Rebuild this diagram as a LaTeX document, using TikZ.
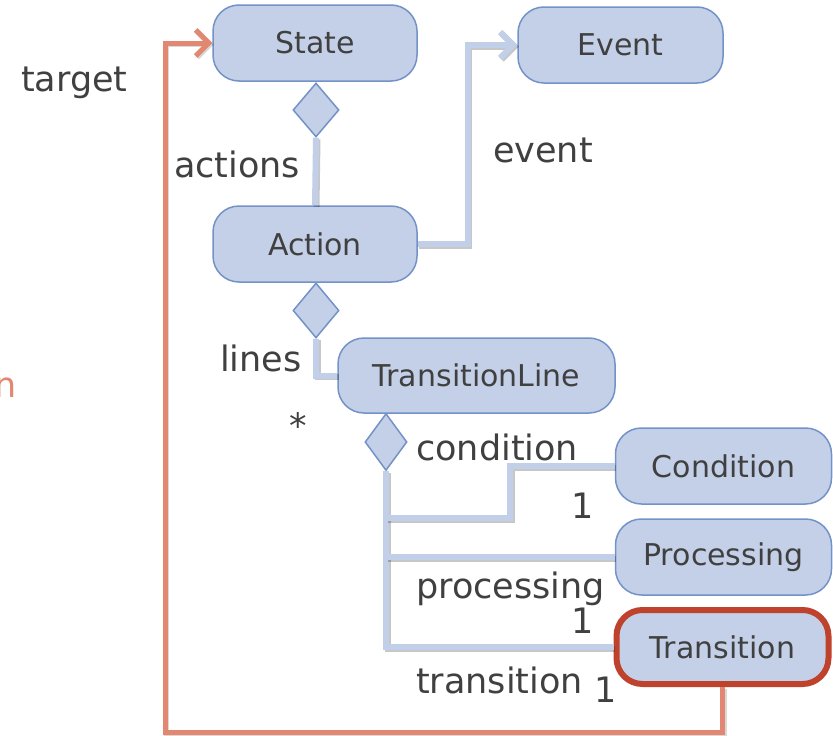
\documentclass[tikz,border=0pt]{standalone}
\usepackage{fontspec}
\setmainfont{DejaVu Sans}
\usetikzlibrary{shapes.geometric,arrows.meta}
\definecolor{boxfill}{RGB}{196,208,231}
\definecolor{boxedge}{RGB}{114,146,200}
\definecolor{txt}{RGB}{64,64,64}
\definecolor{redge}{RGB}{190,66,44}
\definecolor{salmon}{RGB}{226,136,114}
\definecolor{lnk}{RGB}{193,207,232}
\begin{document}
\begin{tikzpicture}[x=1pt,y=-1pt,
 box/.style={draw=boxedge, line width=1.5pt, fill=boxfill, rounded corners=26pt, text=txt,
   font=\fontsize{30}{36}\selectfont, inner sep=0pt},
 dia/.style={diamond, draw=boxedge, line width=1.5pt, fill=boxfill, inner sep=0pt},
 lbl/.style={text=txt, font=\fontsize{35}{42}\selectfont, inner sep=0pt, anchor=base west},
 link/.style={draw=lnk, line width=6pt,
   preaction={draw=black, opacity=.22, line width=6pt, transform canvas={shift={(1.5pt,-1.5pt)}}}},
 tlink/.style={draw=salmon, line width=5pt,
   preaction={draw=black, opacity=.15, line width=5pt, transform canvas={shift={(1.5pt,-1.5pt)}}}},
 barb/.style={-{Straight Barb[length=13pt,width=26pt]}}
]
\useasboundingbox (0,0) rectangle (833,736);
\fill[white] (0,0) rectangle (833,736);

% nodes
\node[box, minimum width=204pt, minimum height=76pt] (state) at (315,43) {State};
\node[box, minimum width=205pt, minimum height=76pt] (event) at (620.5,45) {Event};
\node[box, minimum width=204pt, minimum height=76pt] (action) at (315,244) {Action};
\node[box, minimum width=277pt, minimum height=75pt] (tline) at (476.5,375.5) {TransitionLine};
\node[box, minimum width=216pt, minimum height=76pt] (cond) at (723.5,466) {Condition};
\node[box, minimum width=216pt, minimum height=76pt] (proc) at (723.5,557) {Processing};
\node[box, draw=redge, line width=6pt, minimum width=212pt, minimum height=74pt] (trans) at (722.5,647) {Transition};

\node[dia, minimum width=46pt, minimum height=54pt] (d1) at (316,110) {};
\node[dia, minimum width=46pt, minimum height=55pt] (d2) at (316,310.5) {};
\node[dia, minimum width=42pt, minimum height=57pt] (d3) at (386,442) {};

\coordinate (cj) at (386,518);
\coordinate (pj) at (386,557);
\coordinate (tc) at (165,732);

% connectors
\draw[link] (d1.south) -- (action.north);
\draw[link, barb] (action.east) -- ++(50,0) |- (event.west);
\draw[link] (d2.south) |- (tline.west);
\draw[link] (d3.south) |- (trans.west);
\draw[link] (cj) -- ++(124,0) |- (cond.west);
\draw[link] (pj) -- (proc.west);
\draw[tlink, barb] (trans.south) |- (tc) |- (state.west);

% labels
\node[lbl] (l-target) at (21,91) {target};
\node[lbl] (l-actions) at (174,177) {actions};
\node[lbl] (l-event) at (493,162) {event};
\node[lbl] (l-lines) at (220,371) {lines};
\node[lbl] (l-star) at (289,438) {*};
\node[lbl] (l-cond) at (416,460) {condition};
\node[lbl] (l-c1) at (571,518) {1};
\node[lbl] (l-proc) at (416,598) {processing};
\node[lbl] (l-p1) at (571,633) {1};
\node[lbl] (l-trans) at (416,693) {transition};
\node[lbl] (l-t1) at (594,702) {1};
\node[lbl, text=salmon, anchor=base east] (l-n) at (17,397) {n};
\end{tikzpicture}
\end{document}
